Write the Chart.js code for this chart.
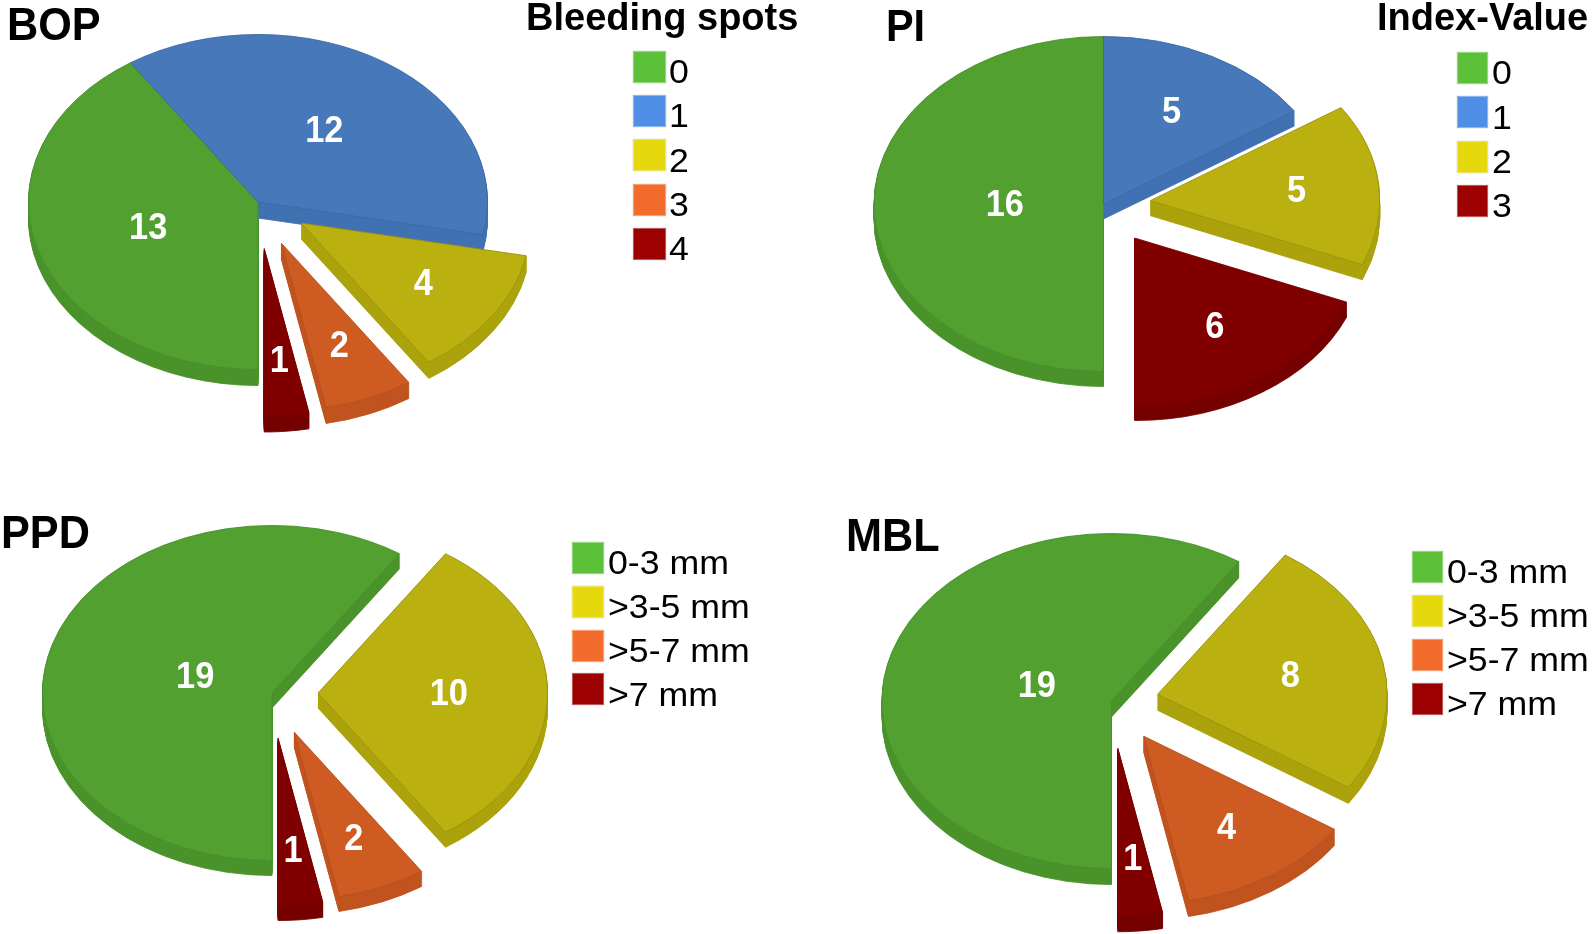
<!DOCTYPE html>
<html>
<head>
<meta charset="utf-8">
<title>BOP, PI, PPD, MBL</title>
<script src="https://cdn.jsdelivr.net/npm/chart.js@4"></script>
<style>
html, body { margin: 0; padding: 0; background: #fff; }
#page { position: relative; width: 1594px; height: 934px; overflow: hidden; font-family: "Liberation Sans", Arial, sans-serif; color: #000; }
canvas { position: absolute; left: 0; top: 0; }
.txt { position: absolute; line-height: 1; white-space: pre; transform-origin: left center; }
.swatch { position: absolute; box-sizing: border-box; border: 1px solid rgba(255,255,255,0.35); box-shadow: 0 0 1px rgba(120,120,120,0.6); }
</style>
</head>
<body>
<div id="page"></div>
<script>
// slice values
var bopValues = [13, 12, 4, 2, 1];
var piValues = [16, 5, 5, 6];
var ppdValues = [19, 10, 2, 1];
var mblValues = [19, 8, 4, 1];

// legend entries
var bopLegend = ['0', '1', '2', '3', '4'];
var piLegend = ['0', '1', '2', '3'];
var ppdLegend = ['0-3 mm', '>3-5 mm', '>5-7 mm', '>7 mm'];
var mblLegend = ['0-3 mm', '>3-5 mm', '>5-7 mm', '>7 mm'];

// colours
var GREEN = {top: '#52a02f', side: '#4a932b', line: '#478f2c', key: '#5cc139'};
var BLUE = {top: '#4779ba', side: '#4172b2', line: '#3a6aa0', key: '#4f90e6'};
var YELLOW = {top: '#bab00f', side: '#aca20d', line: '#9a9110', key: '#e5d90e'};
var ORANGE = {top: '#cd5b22', side: '#c0541f', line: '#b5501f', key: '#f36c2c'};
var RED = {top: '#800000', side: '#750000', line: '#780000', key: '#9c0000'};

var W = 1594, H = 934, SIZE = 460;
var TILT = 0.73;

var charts = [
    {
        title: 'BOP', titleX: 7, titleY: 40, titleSize: 47,
        values: bopValues, colors: [GREEN, BLUE, YELLOW, ORANGE, RED],
        cx: 258, cy: 202, depth: 16,
        explode: [0, 0, 52, 61, 64],
        labelAt: [0.5, 0.52, 0.64, 0.66, 0.67],
        head: 'Bleeding spots', headX: 526, headY: 30,
        legend: bopLegend, keyX: 633, keyY: 51, keyStep: 44.2, keyW: 33, keyH: 32, keyText: 669, keyBase: 83
    },
    {
        title: 'PI', titleX: 886, titleY: 41, titleSize: 45,
        values: piValues, colors: [GREEN, BLUE, YELLOW, RED],
        cx: 1103.5, cy: 204, depth: 15,
        explode: [0, 0, 47, 56],
        labelAt: [0.43, 0.63, 0.64, 0.63],
        head: 'Index-Value', headX: 1377, headY: 30,
        legend: piLegend, keyX: 1457, keyY: 52, keyStep: 44.3, keyW: 31, keyH: 32, keyText: 1492, keyBase: 84
    },
    {
        title: 'PPD', titleX: 1, titleY: 548, titleSize: 47,
        values: ppdValues, colors: [GREEN, YELLOW, ORANGE, RED],
        cx: 272, cy: 693, depth: 15,
        explode: [0, 46, 58, 62],
        labelAt: [0.35, 0.57, 0.68, 0.67],
        legend: ppdLegend, keyX: 572, keyY: 542, keyStep: 43.8, keyW: 32, keyH: 32, keyText: 608, keyBase: 574
    },
    {
        title: 'MBL', titleX: 846, titleY: 551, titleSize: 47,
        values: mblValues, colors: [GREEN, YELLOW, ORANGE, RED],
        cx: 1111.5, cy: 701, depth: 16,
        explode: [0, 47, 58, 65],
        labelAt: [0.34, 0.59, 0.65, 0.66],
        legend: mblLegend, keyX: 1412, keyY: 551, keyStep: 44, keyW: 31, keyH: 32, keyText: 1447, keyBase: 583
    }
];

var page = document.getElementById('page');

function addText(str, x, baseline, size, bold, stretch) {
    var el = document.createElement('div');
    el.className = 'txt';
    el.textContent = str;
    el.style.left = x + 'px';
    el.style.top = (baseline - 0.8465 * size) + 'px';
    el.style.fontSize = size + 'px';
    if (bold) el.style.fontWeight = 'bold';
    if (stretch) el.style.transform = 'scaleX(' + stretch + ')';
    page.appendChild(el);
}

function addLegend(c) {
    c.legend.forEach(function (name, i) {
        var box = document.createElement('div');
        box.className = 'swatch';
        box.style.left = c.keyX + 'px';
        box.style.top = (c.keyY + i * c.keyStep) + 'px';
        box.style.width = c.keyW + 'px';
        box.style.height = c.keyH + 'px';
        box.style.background = c.colors[i].key;
        page.appendChild(box);
        addText(name, c.keyText, c.keyBase + i * c.keyStep, 34, false, 1.05);
    });
}

// flattens the pie and gives it a rim, the library only supplies the arcs
function tiltPlugin(c) {
    return {
        id: 'tilt',
        beforeDatasetsDraw: function (chart) {
            var ctx = chart.ctx;
            var arcs = chart.getDatasetMeta(0).data;

            function place(arc, i, down) {
                var mid = (arc.startAngle + arc.endAngle) / 2;
                ctx.translate(c.cx, c.cy + down);
                ctx.scale(1, TILT);
                ctx.translate(-arc.x + Math.cos(mid) * c.explode[i], -arc.y + Math.sin(mid) * c.explode[i]);
            }

            // rim first, so the faces sit on top of it
            arcs.forEach(function (arc, i) {
                var faceOptions = arc.options;
                arc.options = Object.assign({}, faceOptions, {
                    backgroundColor: c.colors[i].side,
                    borderColor: c.colors[i].side
                });
                for (var d = c.depth; d > 0; d--) {
                    ctx.save();
                    place(arc, i, d);
                    arc.draw(ctx);
                    ctx.restore();
                }
                arc.options = faceOptions;
            });

            arcs.forEach(function (arc, i) {
                ctx.save();
                place(arc, i, 0);
                arc.draw(ctx);
                ctx.restore();
            });

            // value labels
            ctx.save();
            ctx.font = 'bold 37px "Liberation Sans", Arial, sans-serif';
            ctx.fillStyle = '#ffffff';
            ctx.textAlign = 'center';
            ctx.textBaseline = 'middle';
            arcs.forEach(function (arc, i) {
                var mid = (arc.startAngle + arc.endAngle) / 2;
                var dist = c.explode[i] + arc.outerRadius * c.labelAt[i];
                ctx.save();
                ctx.translate(c.cx + Math.cos(mid) * dist, c.cy + Math.sin(mid) * dist * TILT + 2);
                ctx.scale(0.93, 1);
                ctx.fillText(String(c.values[i]), 0, 0);
                ctx.restore();
            });
            ctx.restore();

            return false;
        }
    };
}

charts.forEach(function (c) {
    var canvas = document.createElement('canvas');
    canvas.width = W;
    canvas.height = H;
    page.appendChild(canvas);

    new Chart(canvas.getContext('2d'), {
        type: 'pie',
        data: {
            labels: c.legend,
            datasets: [{
                data: c.values,
                backgroundColor: c.colors.map(function (col) { return col.top; }),
                borderColor: c.colors.map(function (col) { return col.line; }),
                borderWidth: 1
            }]
        },
        options: {
            responsive: false,
            animation: false,
            rotation: 180,
            events: [],
            layout: {padding: {left: 0, top: 0, right: W - SIZE, bottom: H - SIZE}},
            plugins: {legend: {display: false}, tooltip: {enabled: false}}
        },
        plugins: [tiltPlugin(c)]
    });

    addText(c.title, c.titleX, c.titleY, c.titleSize, true, 0.92);
    if (c.head) addText(c.head, c.headX, c.headY, 38, true);
    addLegend(c);
});
</script>
</body>
</html>
